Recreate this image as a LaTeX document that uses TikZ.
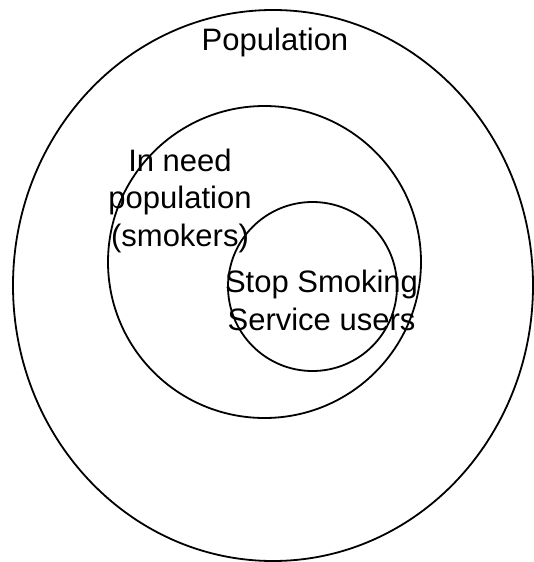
\documentclass[tikz,border=0pt]{standalone}
\usepackage{fontspec}
\setmainfont{Liberation Sans}
\usetikzlibrary{calc}

\begin{document}
\begin{tikzpicture}[x=1pt, y=-1pt, line width=1.8pt,
  venntext/.style={font=\fontsize{31}{37.5}\selectfont, align=center, anchor=base, inner sep=0pt}]

\useasboundingbox (0, 0) rectangle (534, 562);

\coordinate (P) at (273, 285.5);
\coordinate (N) at (264.5, 262);
\coordinate (S) at (312.5, 286.5);

\draw (P) ellipse [x radius=260, y radius=275.5];
\draw (N) ellipse [x radius=156.5, y radius=156];
\draw (S) ellipse [x radius=84.5, y radius=84.5];

% base of a multi-line node is its last line
\node [venntext] (pop) at (275, 50) {Population};
\node [venntext] (need) at (180, 246) {In need\\population\\(smokers)};
\node [venntext] (users) at (321.5, 330) {Stop Smoking\\Service users};

\end{tikzpicture}
\end{document}
